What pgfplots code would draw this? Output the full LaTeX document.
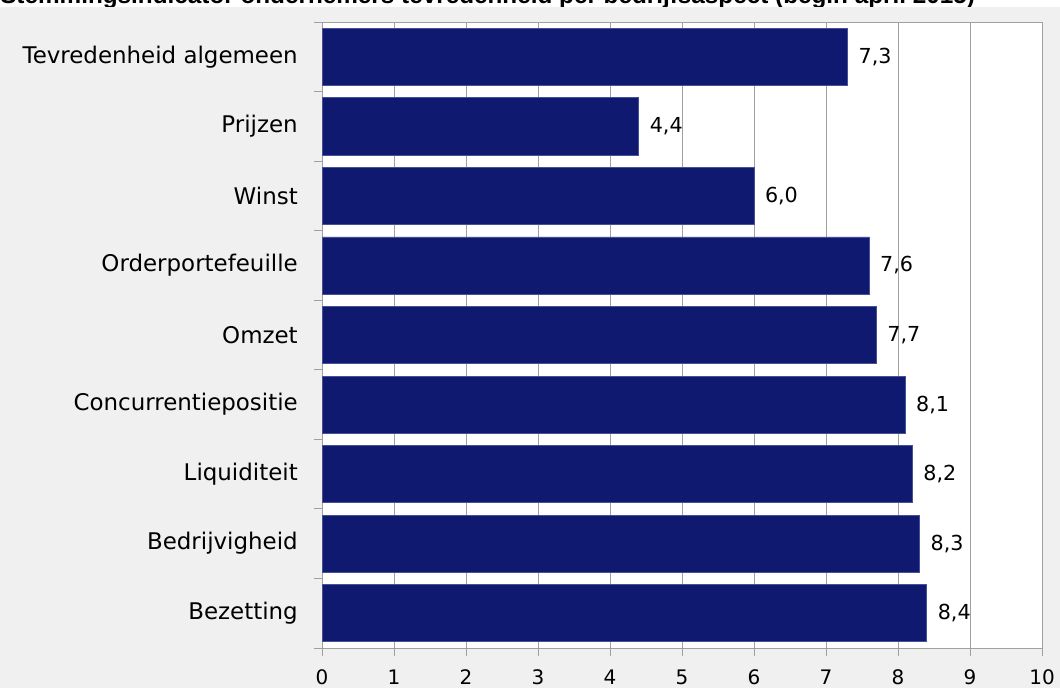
\documentclass[border=0pt]{standalone}
\usepackage{pgfplots}
\pgfplotsset{compat=1.18}
\usepackage{fontspec}
\setmainfont{DejaVu Sans}
\newfontfamily\titlefont{Liberation Sans}
\definecolor{barblue}{RGB}{15,25,112}
\definecolor{baredge}{RGB}{70,80,150}
\definecolor{bg}{RGB}{240,240,240}
\definecolor{gridgray}{RGB}{160,160,160}
\pgfplotstableread{
y val
1 8.4
2 8.3
3 8.2
4 8.1
5 7.7
6 7.6
7 6.0
8 4.4
9 7.3
}\datatable
\begin{document}
\begin{tikzpicture}
\useasboundingbox (0,0) rectangle (795pt,516pt);
\node[anchor=base west, inner sep=0pt] at (0pt,513pt) {\resizebox{731pt}{!}{\titlefont\bfseries Stemmingsindicator ondernemers tevredenheid per bedrijfsaspect (begin april 2015)}};
\fill[bg] (0,0) rectangle (795pt,510.75pt);
\begin{axis}[
  at={(241.5pt,30pt)}, anchor=south west,
  scale only axis, width=540pt, height=469.5pt,
  xmin=0, xmax=10, ymin=0.5, ymax=9.5,
  /pgf/number format/assume math mode=true,
  xbar, bar width=0.82,
  axis background/.style={fill=white},
  axis line style={gridgray, line width=0.6pt},
  xmajorgrids, grid style={gridgray, line width=0.6pt},
  xtick={0,...,10}, minor xtick={0,...,10},
  ytick={1,...,9},
  yticklabels={Bezetting,Bedrijvigheid,Liquiditeit,Concurrentiepositie,Omzet,Orderportefeuille,Winst,Prijzen,Tevredenheid algemeen},
  minor ytick={0.5,1.5,...,9.5},
  xtick pos=bottom, ytick pos=left,
  tick align=outside, major tick length=0pt, minor tick length=6pt,
  tick style={gridgray, line width=0.6pt},
  xticklabel style={font=\fontsize{15}{15}\selectfont, inner sep=0pt, yshift=-16pt},
  yticklabel style={font=\fontsize{17.2}{17.2}\selectfont, inner sep=0pt, xshift=-18pt},
  nodes near coords={\pgfmathprintnumber[fixed,fixed zerofill,precision=1,use comma,assume math mode=true]{\pgfplotspointmeta}},
  nodes near coords style={anchor=west, inner sep=0pt, xshift=8pt, font=\fontsize{15.5}{15.5}\selectfont, text=black},
]
\addplot[fill=barblue, draw=baredge, line width=0.5pt] table[x=val, y=y] {\datatable};
\end{axis}
\end{tikzpicture}
\end{document}
